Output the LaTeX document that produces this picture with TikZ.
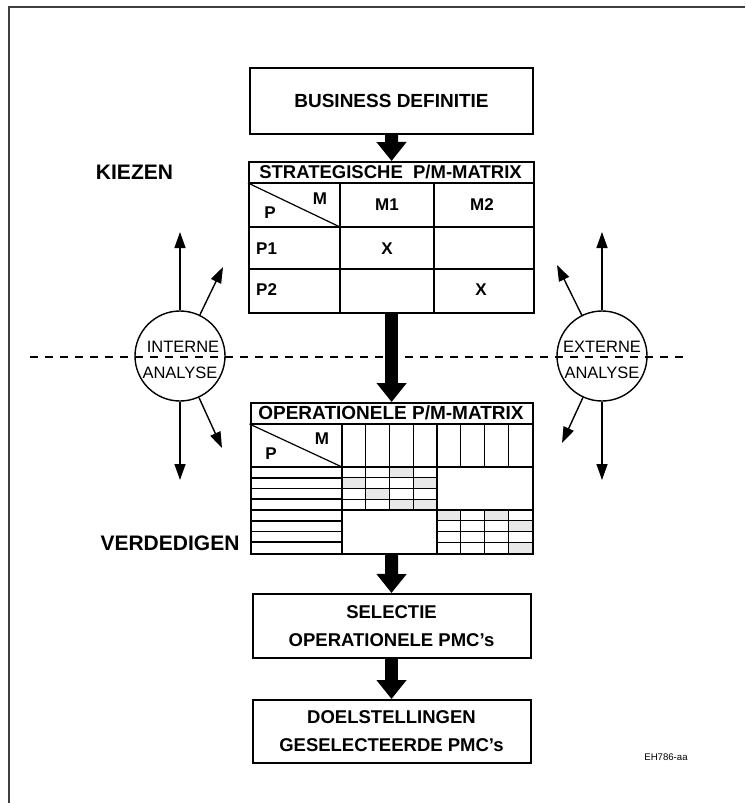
\documentclass[tikz,border=0pt]{standalone}
\usepackage{fontspec}
\setmainfont{Liberation Sans}
\usetikzlibrary{arrows.meta}
\begin{document}
\begin{tikzpicture}[x=1pt,y=-1pt,
  box/.style={draw, line width=2pt, inner sep=0pt, anchor=north west},
  lbl/.style={font=\fontsize{18.5}{22}\selectfont\bfseries, inner sep=0pt},
  cell/.style={font=\fontsize{17}{20}\selectfont\bfseries, inner sep=0pt},
  side/.style={font=\fontsize{21}{24}\selectfont\bfseries, inner sep=0pt},
  ctext/.style={font=\fontsize{16.5}{19}\selectfont, inner sep=0pt},
  flow/.style={line width=13pt, -{Triangle[width=29pt,length=19pt]}},
  probe/.style={line width=1.4pt, -{Triangle[width=11pt,length=16pt]}},
  anal/.style={circle, draw, line width=1.4pt, minimum size=90pt, inner sep=0pt},
  thin/.style={line width=1.2pt},
  mid/.style={line width=1.8pt},
  dot/.style={fill=black!9, draw=none}
]
\useasboundingbox (0,0) rectangle (745,803);

% page frame
\draw[black!75, line width=1.1pt] (745,7) -- (9,7) -- (9,803);

% dashed divider between choosing and defending
\draw[line width=1.4pt, dash pattern=on 8pt off 7pt] (30,357) -- (688,357);

% main column of boxes
\node[box, minimum width=283pt, minimum height=66pt] (biz) at (249,67) {};
\node[lbl, font=\fontsize{19}{22}\selectfont\bfseries] at (biz.center) {BUSINESS DEFINITIE};

\node[box, line width=2.2pt, minimum width=285pt, minimum height=151pt] (smat) at (248,161) {};
\node[box, line width=2.2pt, minimum width=282pt, minimum height=151pt] (omat) at (249.5,402) {};

\node[box, minimum width=278pt, minimum height=64pt] (sel) at (251.5,593) {};
\node[lbl, align=center] at (sel.center) {SELECTIE\\[6pt]OPERATIONELE PMC's};

\node[box, minimum width=278pt, minimum height=63pt] (doel) at (251.5,699) {};
\node[lbl, align=center] at (doel.center) {DOELSTELLINGEN\\[6pt]GESELECTEERDE PMC's};

\draw[flow] (biz.south) -- (smat.north);
\draw[flow] (smat.south) -- (omat.north);
\draw[flow] (omat.south) -- (sel.north);
\draw[flow] (sel.south) -- (doel.north);

% strategic matrix grid
\draw[mid] (248,183) -- (533,183);
\draw[mid] (248,227) -- (533,227);
\draw[mid] (248,269) -- (533,269);
\draw[mid] (340,183) -- (340,312);
\draw[mid] (434,183) -- (434,312);
\draw[thin] (248,183) -- (340,227);
\node[lbl] at (390.5,172) {STRATEGISCHE\ \ P/M-MATRIX};
\node[cell] at (320,199) {M};
\node[cell] at (270,213) {P};
\node[cell] at (387,205) {M1};
\node[cell] at (482,205) {M2};
\node[cell, anchor=west] at (256,249) {P1};
\node[cell] at (387,249) {X};
\node[cell, anchor=west] at (256,290) {P2};
\node[cell] at (481,290) {X};

% operational matrix: shaded cells
\foreach \c/\r in {3/1,1/2,4/2,2/3,3/4,4/4}
  \fill[dot] ({342+23.75*(\c-1)},{467+10.75*(\r-1)}) rectangle ++(23.75,10.75);
\foreach \c/\r in {1/1,3/1,4/2,4/4}
  \fill[dot] ({437+23.75*(\c-1)},{510+10.75*(\r-1)}) rectangle ++(23.75,10.75);

% operational matrix grid
\draw[mid] (249.5,424) -- (532,424);
\draw[mid] (249.5,467) -- (532,467);
\draw[mid] (249.5,510) -- (532,510);
\draw[mid] (342,424) -- (342,553);
\draw[mid] (437,424) -- (437,553);
\draw[thin] (249.5,424) -- (342,467);
\foreach \k in {1,2,3,5,6,7}
  \draw[thin] ({342+23.75*\k},424) -- ({342+23.75*\k},467);
\foreach \k in {1,2,3} {
  \draw[thin] ({342+23.75*\k},467) -- ({342+23.75*\k},510);
  \draw[thin] ({437+23.75*\k},510) -- ({437+23.75*\k},553);
  \draw[thin] (342,{467+10.75*\k}) -- (437,{467+10.75*\k});
  \draw[thin] (437,{510+10.75*\k}) -- (532,{510+10.75*\k});
}
\foreach \k in {1,2,3,5,6,7}
  \draw[mid] (249.5,{467+10.75*\k}) -- (342,{467+10.75*\k});
\node[lbl, font=\fontsize{19}{22}\selectfont\bfseries] at (391,413) {OPERATIONELE P/M-MATRIX};
\node[cell] at (322,439) {M};
\node[cell] at (271,454) {P};

% phase labels
\node[side] at (134.5,172) {KIEZEN};
\node[side] at (170,543) {VERDEDIGEN};

% internal and external analysis
\node[anal] (int) at (180,356) {};
\node[ctext] at (183,347) {INTERNE};
\node[ctext] at (180,373) {ANALYSE};
\node[anal] (ext) at (602,356) {};
\node[ctext] at (602,347) {EXTERNE};
\node[ctext] at (602,373) {ANALYSE};

\coordinate (iu) at (180,232);
\coordinate (iur) at (223,267);
\coordinate (idr) at (222,448);
\coordinate (id) at (180,480);
\coordinate (eu) at (602,232);
\coordinate (eul) at (557,265);
\coordinate (edl) at (562,443);
\coordinate (ed) at (602,480);

\draw[probe] (int) -- (iu);
\draw[probe] (int) -- (iur);
\draw[probe] (int) -- (idr);
\draw[probe] (int) -- (id);
\draw[probe] (ext) -- (eu);
\draw[probe] (ext) -- (eul);
\draw[probe] (ext) -- (edl);
\draw[probe] (ext) -- (ed);

% drawing code
\node[font=\fontsize{9.6}{11}\selectfont, inner sep=0pt] at (666,757) {EH786-aa};
\end{tikzpicture}
\end{document}
